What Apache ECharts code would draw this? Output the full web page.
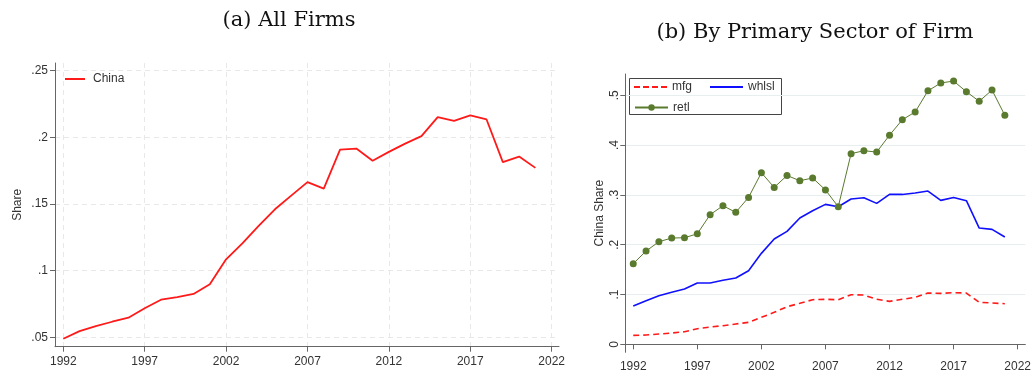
<!DOCTYPE html>
<html>
<head>
<meta charset="utf-8">
<script src="https://cdn.jsdelivr.net/npm/echarts@6/dist/echarts.min.js"></script>
<style>
  html, body { margin: 0; padding: 0; background: #fff; }
  #chart { width: 1034px; height: 375px; }
</style>
</head>
<body>
<div id="chart"></div>
<script>
// Years covered by both panels
const years = [1992, 1993, 1994, 1995, 1996, 1997, 1998, 1999, 2000, 2001, 2002, 2003, 2004,
  2005, 2006, 2007, 2008, 2009, 2010, 2011, 2012, 2013, 2014, 2015, 2016, 2017, 2018, 2019, 2020, 2021];

// Panel (a): China share, all firms
const chinaAll = [0.049, 0.0547, 0.0585, 0.0617, 0.0647, 0.0718, 0.0782, 0.0802, 0.0825, 0.0898,
  0.1085, 0.1205, 0.1335, 0.146, 0.1562, 0.1663, 0.1615, 0.1907, 0.1915, 0.1823,
  0.189, 0.1952, 0.2008, 0.215, 0.2123, 0.2163, 0.2133, 0.1813, 0.1855, 0.177];

// Panel (b): China share by primary sector
const mfg = [0.018, 0.0187, 0.0207, 0.0227, 0.0253, 0.0314, 0.0347, 0.0374, 0.0408, 0.0442,
  0.0542, 0.0643, 0.0755, 0.0823, 0.0896, 0.0904, 0.0896, 0.0996, 0.099, 0.0904,
  0.0863, 0.0904, 0.0944, 0.103, 0.1024, 0.1037, 0.103, 0.0843, 0.083, 0.0816];
const whlsl = [0.0769, 0.0876, 0.0976, 0.1044, 0.111, 0.1231, 0.1231, 0.1285, 0.1331, 0.1478,
  0.1827, 0.2114, 0.2269, 0.2536, 0.2683, 0.281, 0.2763, 0.2918, 0.2944, 0.283,
  0.301, 0.301, 0.3038, 0.3078, 0.289, 0.295, 0.2884, 0.2335, 0.2309, 0.2155];
const retl = [0.162, 0.1873, 0.206, 0.2135, 0.214, 0.222, 0.2603, 0.2783, 0.265, 0.295,
  0.3446, 0.315, 0.339, 0.3285, 0.334, 0.31, 0.2763, 0.3828, 0.3888, 0.386,
  0.42, 0.451, 0.4665, 0.509, 0.5247, 0.5287, 0.5072, 0.488, 0.5106, 0.4598];

// Tick labels
const yearTicks = [1992, 1997, 2002, 2007, 2012, 2017, 2022];
const shareTicksA = [0.05, 0.1, 0.15, 0.2, 0.25];
const shareTicksB = [0, 0.1, 0.2, 0.3, 0.4, 0.5];

const pair = (xs, ys) => xs.map((x, i) => [x, ys[i]]);
const fmtShare = v => {
  const s = String(+(+v).toFixed(2));
  return s.replace(/^0\./, '.');
};
const fmtYear = v => String(Math.round(v));

const axisColor = '#666';
const labelColor = '#333';
const font = 'Liberation Sans, Arial, sans-serif';

// Legend line samples
const solidIcon = 'path://M0,0 L33,0 L33,2 L0,2 Z';
const dashIcon = 'path://M0,0h6v2h-6z M9,0h6v2h-6z M18,0h6v2h-6z M27,0h6v2h-6z';

const chart = echarts.init(document.getElementById('chart'), null, { renderer: 'canvas' });

chart.setOption({
  backgroundColor: '#fff',
  animation: false,
  title: [
    { text: '(a) All Firms', left: 284, top: 5, textAlign: 'center',
      textStyle: { fontFamily: 'DejaVu Serif', fontSize: 21, fontWeight: 'normal', color: '#111' } },
    { text: '(b) By Primary Sector of Firm', left: 810, top: 17, textAlign: 'center',
      textStyle: { fontFamily: 'DejaVu Serif', fontSize: 21, fontWeight: 'normal', color: '#111' } }
  ],
  legend: [
    { data: [{ name: 'China', icon: 'path://M0,0 L20,0 L20,2 L0,2 Z' }], left: 65, top: 73,
      itemWidth: 20, itemHeight: 14, itemGap: 8, padding: 0,
      textStyle: { fontFamily: font, fontSize: 12, color: labelColor, padding: [0, 0, 0, 3] } },
    { data: [{ name: 'mfg', icon: dashIcon }, { name: 'whlsl', icon: solidIcon }],
      left: 634, top: 81, itemWidth: 33, itemHeight: 14, itemGap: 18, padding: 0,
      textStyle: { fontFamily: font, fontSize: 12, color: labelColor } },
    { data: ['retl'], left: 634, top: 101.5, itemWidth: 33, itemHeight: 8, padding: 0,
      textStyle: { fontFamily: font, fontSize: 12, color: labelColor } }
  ],
  graphic: [
    { type: 'rect', left: 629, top: 78, shape: { width: 152, height: 36 }, z: 0,
      style: { fill: '#fff', stroke: '#444', lineWidth: 1 } }
  ],
  grid: [
    { left: 55, top: 63, width: 504, bottom: 28.3 },
    { left: 625.3, top: 74, right: 4, bottom: 22.7 }
  ],
  xAxis: [
    { type: 'value', gridIndex: 0, min: 1991.49, max: 2022.45,
      axisLine: { lineStyle: { color: axisColor } },
      axisTick: { length: 5, customValues: yearTicks, lineStyle: { color: axisColor } },
      axisLabel: { customValues: yearTicks, formatter: fmtYear, color: labelColor, fontFamily: font, fontSize: 12, margin: 9 },
      splitLine: { show: true, lineStyle: { color: '#e8e8e8', type: [5, 4] } } },
    { type: 'value', gridIndex: 1, min: 1991.38, max: 2022.6,
      axisLine: { lineStyle: { color: axisColor } },
      axisTick: { length: 5, customValues: yearTicks, lineStyle: { color: axisColor } },
      axisLabel: { customValues: yearTicks, formatter: fmtYear, color: labelColor, fontFamily: font, fontSize: 12, margin: 8 },
      splitLine: { show: false } }
  ],
  yAxis: [
    { type: 'value', gridIndex: 0, min: 0.043, max: 0.2556,
      name: 'Share', nameLocation: 'middle', nameGap: 31,
      nameTextStyle: { fontFamily: font, fontSize: 12, color: labelColor },
      axisLine: { show: true, lineStyle: { color: axisColor } },
      axisTick: { show: true, length: 5, customValues: shareTicksA, lineStyle: { color: axisColor } },
      axisLabel: { customValues: shareTicksA, formatter: fmtShare, color: labelColor, fontFamily: font, fontSize: 12, margin: 7 },
      splitLine: { show: true, lineStyle: { color: '#e8e8e8', type: [5, 4] } } },
    { type: 'value', gridIndex: 1, min: -0.016, max: 0.5428,
      name: 'China Share', nameLocation: 'middle', nameGap: 20,
      nameTextStyle: { fontFamily: font, fontSize: 12, color: labelColor },
      axisLine: { show: true, lineStyle: { color: axisColor } },
      axisTick: { show: true, length: 5, customValues: shareTicksB, lineStyle: { color: axisColor } },
      axisLabel: { customValues: shareTicksB, formatter: fmtShare, rotate: 90, color: labelColor, fontFamily: font, fontSize: 12, margin: 5 },
      splitLine: { show: true, lineStyle: { color: '#e6eef0', type: 'solid' } } }
  ],
  series: [
    { name: 'China', type: 'line', xAxisIndex: 0, yAxisIndex: 0, data: pair(years, chinaAll),
      showSymbol: false, symbol: 'none', color: '#ff1a1a', lineStyle: { width: 1.8, color: '#ff1a1a' } },
    { name: 'mfg', type: 'line', xAxisIndex: 1, yAxisIndex: 1, data: pair(years, mfg),
      symbol: 'none', color: '#ff1a1a', lineStyle: { width: 1.6, type: [6, 4], color: '#ff1a1a' } },
    { name: 'whlsl', type: 'line', xAxisIndex: 1, yAxisIndex: 1, data: pair(years, whlsl),
      symbol: 'none', color: '#1010ff', lineStyle: { width: 1.6, color: '#1010ff' } },
    { name: 'retl', type: 'line', xAxisIndex: 1, yAxisIndex: 1, data: pair(years, retl),
      symbol: 'circle', symbolSize: 7, showAllSymbol: true, color: '#5a7a2e',
      itemStyle: { color: '#5a7a2e' }, lineStyle: { width: 1, color: '#5a7a2e' } }
  ]
});
</script>
</body>
</html>
